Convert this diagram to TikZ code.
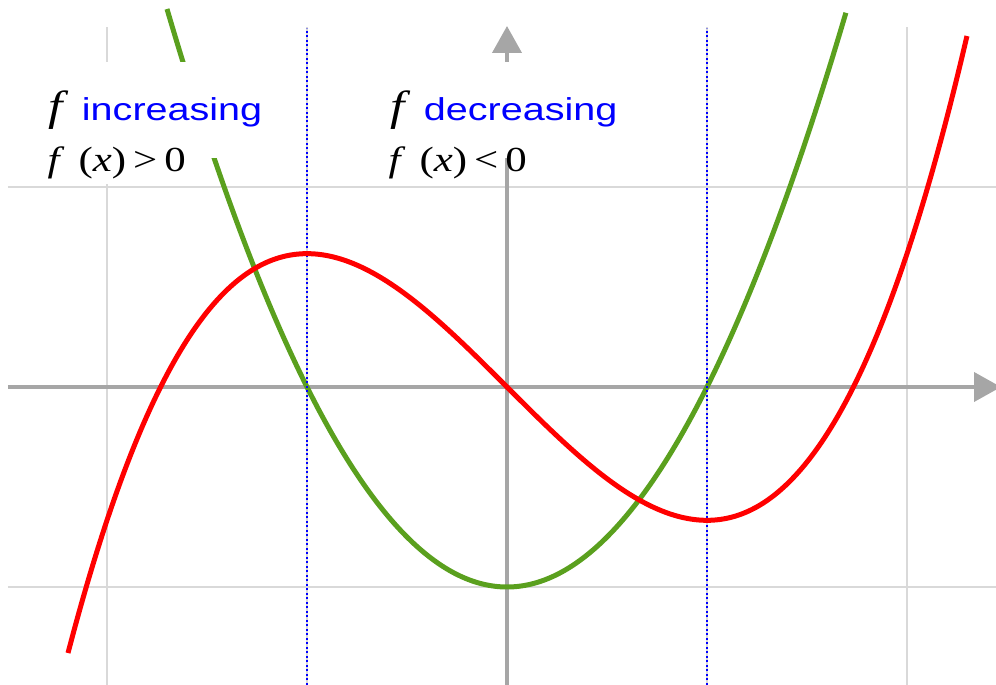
\documentclass[tikz,border=0pt]{standalone}
\usepackage{fontspec}
\setmainfont{Liberation Serif}
\newfontfamily\serifwide[FakeStretch=1.22]{Liberation Serif}
\newfontfamily\sanswide[FakeStretch=1.25]{Liberation Sans}
\usetikzlibrary{arrows.meta}
\definecolor{gridgray}{RGB}{217,217,217}
\definecolor{axisgray}{RGB}{166,166,166}
\definecolor{derivgreen}{RGB}{90,160,30}

\begin{document}
\begin{tikzpicture}[
        x=2cm, y=2cm,
        gridline/.style={gridgray, line width=0.25mm},
        axis/.style={axisgray, line width=0.4mm, -{Triangle[length=2.7mm,width=2.9mm]}},
        curve/.style={line width=0.5mm, smooth, samples=150},
        marker/.style={blue, line width=0.2mm, dash pattern=on 0.2mm off 0.25mm},
        title/.style={anchor=base west, inner sep=0pt, font=\fontsize{9}{11}\sanswide, text=blue},
        cond/.style={anchor=base west, inner sep=0pt, font=\fontsize{10}{12}\serifwide}
      ]
      \useasboundingbox (-2.535,-1.49) rectangle (2.445,1.935);

      % grid
      \foreach \u in {-2,-1,1,2}
        \draw[gridline] (\u,-1.49) -- (\u,1.8);
      \foreach \v in {-1,1}
        \draw[gridline] (-2.495,\v) -- (2.445,\v);

      % axes
      \draw[axis] (-2.495,0) -- (2.47,0);
      \draw[axis] (0,-1.49) -- (0,1.805);

      % derivative
      \draw[curve, derivgreen, domain=-1.7:1.695] plot (\x,{\x*\x-1});

      % blank space behind the labels
      \fill[white] (-2.335,1.145) rectangle (-1.16,1.625);
      \fill[white] (-2.335,1.015) rectangle (-1.575,1.235);
      \fill[white] (-0.635,1.145) rectangle (0.615,1.625);

      \node[title] (incr) at (-2.295,1.33) {{\color{black}\fontsize{12}{14}\serifwide\itshape f}\hspace{0.6em}increasing};
      \node[cond] (incrcond) at (-2.30,1.0775) {\textit{f}\hspace{0.4em}(\textit{x})\hspace{0.2em}>\hspace{0.2em}0};
      \node[title] (decr) at (-0.585,1.33) {{\color{black}\fontsize{12}{14}\serifwide\itshape f}\hspace{0.6em}decreasing};
      \node[cond] (decrcond) at (-0.595,1.0775) {\textit{f}\hspace{0.4em}(\textit{x})\hspace{0.2em}<\hspace{0.2em}0};

      % critical points
      \draw[marker] (-1,-1.49) -- (-1,1.795);
      \draw[marker] (1,-1.49) -- (1,1.795);

      % function
      \draw[curve, red, domain=-2.195:2.3] plot (\x,{\x*\x*\x/3-\x});

    \end{tikzpicture}
\end{document}
